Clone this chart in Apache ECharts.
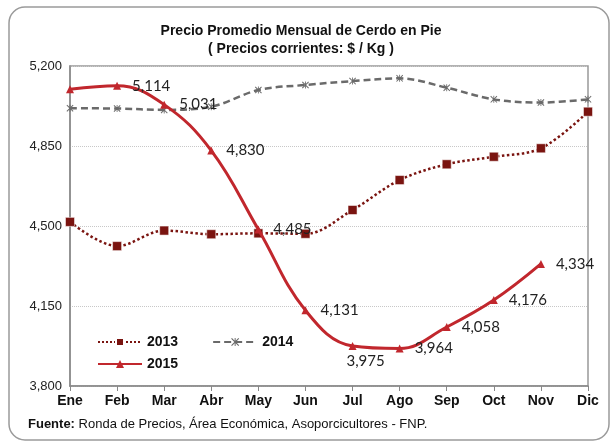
<!DOCTYPE html>
<html>
<head>
<meta charset="utf-8">
<script src="https://cdn.jsdelivr.net/npm/echarts@6/dist/echarts.min.js"></script>
<style>
  html, body { margin: 0; padding: 0; background: #fff; }
  #chart { width: 613px; height: 444px; }
</style>
</head>
<body>
<div id="chart"></div>
<script>
// datos
var meses = ['Ene', 'Feb', 'Mar', 'Abr', 'May', 'Jun', 'Jul', 'Ago', 'Sep', 'Oct', 'Nov', 'Dic'];
var datos2013 = [4518, 4412, 4480, 4464, 4468, 4466, 4570, 4701, 4770, 4803, 4840, 5000];
var datos2014 = [5015, 5014, 5008, 5022, 5095, 5117, 5134, 5146, 5105, 5054, 5040, 5054];
var datos2015 = [5098, 5114, 5031, 4830, 4485, 4131, 3975, 3964, 4058, 4176, 4334];
var ejeY = [3800, 4150, 4500, 4850, 5200];

(function() {
  var myChart = echarts.init(document.getElementById('chart'));

  function fmt(v) {
    return String(v).replace(/\B(?=(\d{3})+(?!\d))/g, ',');
  }

  // etiquetas solo de Feb a Nov, Jul debajo
  var serie2015 = datos2015.map(function(v, i) {
    var item = { value: v };
    if (i === 0) {
      item.label = { show: false };
    } else if (i === 6) {
      item.label = { position: 'bottom', offset: [13, -7] };
    }
    return item;
  });

  var xSymbol = 'path://M0,1 L1,0 L5,4 L9,0 L10,1 L6,5 L10,9 L9,10 L5,6 L1,10 L0,9 L4,5 Z M4.4,0 L5.6,0 L5.6,10 L4.4,10 Z';

  var legendText = { fontFamily: 'Liberation Sans', fontSize: 14, fontWeight: 'bold', color: '#111' };

  var option = {
    backgroundColor: '#fff',
    animation: false,
    title: {
      text: 'Precio Promedio Mensual de Cerdo en Pie\n( Precios corrientes: $ / Kg )',
      left: 296,
      textAlign: 'center',
      top: 17,
      textStyle: {
        fontFamily: 'Liberation Sans',
        fontSize: 14,
        fontWeight: 'bold',
        color: '#111',
        lineHeight: 18
      }
    },
    legend: [
      {
        data: ['2013', '2014'],
        left: 97,
        top: 335,
        padding: 0,
        itemWidth: 44,
        itemHeight: 10,
        itemGap: 34,
        textStyle: legendText
      },
      {
        data: ['2015'],
        left: 97,
        top: 357,
        padding: 0,
        itemWidth: 44,
        itemHeight: 10,
        textStyle: legendText
      }
    ],
    grid: {
      left: 70,
      right: 25,
      top: 66,
      bottom: 58,
      show: true,
      borderColor: '#999',
      borderWidth: 1.5
    },
    xAxis: {
      type: 'category',
      boundaryGap: false,
      data: meses,
      axisLine: { lineStyle: { color: '#888', width: 1.5 } },
      axisTick: { show: true, length: 5, lineStyle: { color: '#888' } },
      axisLabel: {
        fontFamily: 'Liberation Sans',
        fontSize: 14,
        fontWeight: 'bold',
        color: '#111',
        margin: 8,
        interval: 0
      }
    },
    yAxis: {
      type: 'value',
      min: ejeY[0],
      max: ejeY[ejeY.length - 1],
      interval: ejeY[1] - ejeY[0],
      axisLine: { show: true, lineStyle: { color: '#888', width: 1.5 } },
      axisTick: { show: false },
      axisLabel: {
        fontFamily: 'Liberation Sans',
        fontSize: 13,
        color: '#222',
        margin: 8,
        formatter: function(v) { return fmt(v); }
      },
      splitLine: { lineStyle: { color: '#c8c8c8', type: 'dotted', width: 1 } }
    },
    series: [
      {
        name: '2013',
        type: 'line',
        smooth: 0.35,
        data: datos2013,
        symbol: 'rect',
        symbolSize: 9,
        lineStyle: { color: '#7a1410', width: 2.5, type: 'dotted' },
        itemStyle: { color: '#7a1410', borderColor: '#fff', borderWidth: 0.5 }
      },
      {
        name: '2014',
        type: 'line',
        smooth: 0.35,
        data: datos2014,
        symbol: xSymbol,
        symbolSize: 7,
        lineStyle: { color: '#6a6a6a', width: 2.5, type: [7, 4] },
        itemStyle: { color: '#6a6a6a' }
      },
      {
        name: '2015',
        type: 'line',
        smooth: 0.4,
        data: serie2015,
        symbol: 'triangle',
        symbolSize: 8,
        z: 5,
        lineStyle: { color: '#c1272d', width: 3 },
        itemStyle: { color: '#c1272d' },
        label: {
          show: true,
          position: 'right',
          distance: 11,
          fontFamily: 'Lato',
          fontSize: 15,
          color: '#222',
          formatter: function(p) { return fmt(p.value); }
        }
      }
    ],
    graphic: [
      {
        type: 'rect',
        shape: { x: 9, y: 7, width: 600, height: 433, r: 16 },
        style: { fill: 'none', stroke: '#9a9a9a', lineWidth: 1.5 },
        silent: true
      },
      {
        type: 'text',
        left: 28,
        top: 418,
        style: {
          text: '{b|Fuente:} Ronda de Precios, Área Económica, Asoporcicultores - FNP.',
          rich: {
            b: { fontFamily: 'Liberation Sans', fontSize: 13, fontWeight: 'bold', fill: '#111' }
          },
          fontFamily: 'Liberation Sans',
          fontSize: 13,
          fill: '#111'
        }
      }
    ]
  };

  myChart.setOption(option);
  window.addEventListener('resize', function() {
    myChart.resize();
  });
})();
</script>
</body>
</html>
